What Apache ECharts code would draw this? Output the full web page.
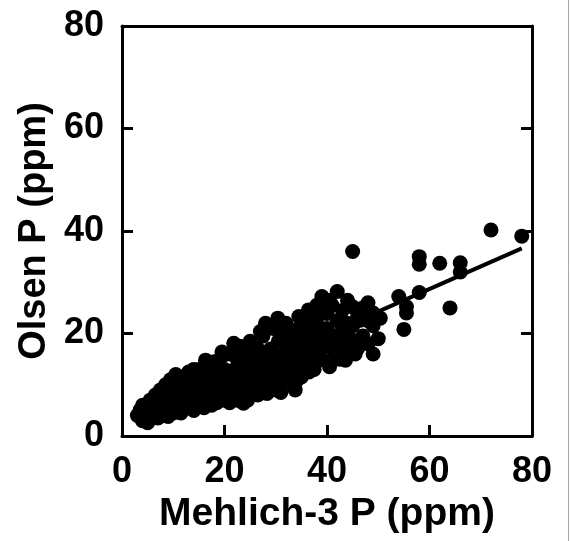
<!DOCTYPE html>
<html><head><meta charset="utf-8">
<script src="https://cdn.jsdelivr.net/npm/echarts@6/dist/echarts.min.js"></script>
<style>html,body{margin:0;padding:0;background:#fff}#c{width:570px;height:541px}</style>
</head><body><div id="c"></div>
<script>
var xTicks = [0, 20, 40, 60, 80];
var yTicks = [0, 20, 40, 60, 80];
var xName = 'Mehlich-3 P (ppm)';
var yName = 'Olsen P (ppm)';
// [Mehlich-3 P, Olsen P]
var points = [
[45,36],[72,40.2],[78,39],[58,35],[58,33.5],[62,33.7],[66,33.8],[66,32],[64,25],[58,28],
[54,27.2],[55.5,25.2],[55.5,24],[55,20.8],[48,26],[49,21.5],[49,16],[42,28.2],[39,27.2],[45,25.2],
[46,17.1],[43.6,14.8],[37.5,13],[34,10.7],[37,24.3],[40,23.9],[34.5,23.3],[46.5,22.6],[36.4,24.6],[30.4,23],
[28,22],[27,20.4],[21.8,18.1],[19.5,16.4],[16.3,14.8],[33.8,9],[28.3,8.3],[23.7,6.4],[36.7,13.5],[50.4,23],
[3,4],[3.5,5],[4,3],[4,6],[4.5,4.5],[5,2.6],[5,5.5],[5.5,3.5],[5.5,7],[6,4],
[6,6],[6.5,5],[6.5,8],[7,3.5],[7,6.5],[7.5,5],[7.5,9],[8,4],[8,7],[8.5,6],
[8.5,10],[9,3.8],[9,8],[9.5,5.5],[9.5,11],[10,4.5],[10,7],[10,9.5],[10.5,6],[10.5,12],
[11,5],[11,8],[11.5,10],[11.5,4.5],[12,7],[12,11.5],[12.5,5.5],[12.5,9],[13,6.5],[13,12.5],
[13.5,8],[13.5,10.5],[14,5],[14,7.5],[14,13],[14.5,9.5],[15,6],[15,11],[15,13],[15.5,8],
[16,5.5],[16,10],[16,12.5],[16.5,7],[17,9],[17,13.5],[17.5,6],[17.5,11],[18,8],[18,14.5],
[18.5,10],[18.5,6.5],[19,12],[19,8.5],[19.5,15.5],[20,7],[20,10.5],[20,13],[20.5,9],[21,6.5],
[21,11.5],[21,16],[21.5,8],[22,13],[22,10],[22.5,7],[22.5,15],[23,11],[23,17.5],[23.5,8.5],
[24,13.5],[24,10],[24.5,7],[24.5,16],[25,12],[25,18.5],[25.5,9],[26,14.5],[26,11],[26.5,8],
[26.5,17],[27,13],[27.5,10],[27.5,19.5],[28,15.5],[28,12],[28.5,9.5],[29,17],[29,13.5],[29.5,11],
[29.5,21],[30,15],[30,9],[30.5,18.5],[31,12.5],[31,20.5],[31.5,16],[32,10.5],[32,14],[32,22],
[32.5,18],[33,12],[33,20],[33.5,15.5],[34,17],[34,13],[34.5,21],[35,11.5],[35,19],[35.5,15],
[36,17.5],[36,22.5],[36.5,12.5],[37,20],[37,16],[37.5,18.5],[38,14.5],[38,22],[38.5,17],[39,19.5],
[39,15],[39.5,24],[40,17.5],[40,21],[40.5,13.5],[41,19],[41,25.5],[41.5,16],[42,22.5],[42,18.5],
[42.5,15],[43,20.5],[43,24.5],[43.5,17.5],[44,22],[44,26.5],[44.5,19],[45,21.5],[45.5,16],[46,23.5],
[47,19.5],[47,25],[48,18],[48,22.5],[49,24],[50,19],[40.5,26.5],[38,25.5],[35,16.5],[31,8.5]
];
var fitX = [3, 78];
var fitY = [3.6, 36.6];

var FONT = "'Liberation Sans', Arial, sans-serif";
var chart = echarts.init(document.getElementById('c'), null, {renderer: 'canvas'});
function line() { return {show: true, onZero: false, lineStyle: {color: '#000', width: 3}}; }
function tick(show) { return {show: show, inside: true, length: 11, lineStyle: {width: 3, color: '#000'}}; }
chart.setOption({
  animation: false,
  backgroundColor: '#fff',
  grid: {left: 122, right: 38, top: 26, bottom: 105},
  xAxis: [{
    type: 'value', position: 'bottom', min: xTicks[0], max: xTicks[xTicks.length - 1], interval: xTicks[1] - xTicks[0],
    name: xName, nameLocation: 'middle', nameGap: 58,
    nameTextStyle: {fontFamily: FONT, fontWeight: 'bold', fontSize: 39, color: '#000'},
    axisLine: line(), axisTick: tick(true),
    axisLabel: {fontFamily: FONT, fontWeight: 'bold', fontSize: 36, color: '#000', margin: 18,
      showMinLabel: true, showMaxLabel: true},
    splitLine: {show: false}
  }, {
    type: 'value', position: 'top', min: 0, max: 80, interval: 20,
    axisLine: line(), axisTick: {show: false}, axisLabel: {show: false}, splitLine: {show: false}
  }],
  yAxis: [{
    type: 'value', position: 'left', min: yTicks[0], max: yTicks[yTicks.length - 1], interval: yTicks[1] - yTicks[0],
    name: yName, nameLocation: 'middle', nameGap: 64,
    nameTextStyle: {fontFamily: FONT, fontWeight: 'bold', fontSize: 38, color: '#000'},
    axisLine: line(), axisTick: tick(true),
    axisLabel: {fontFamily: FONT, fontWeight: 'bold', fontSize: 36, color: '#000', margin: 18,
      showMinLabel: true, showMaxLabel: true},
    splitLine: {show: false}
  }, {
    type: 'value', position: 'right', min: 0, max: 80, interval: 20,
    axisLine: line(), axisTick: tick(true),
    axisLabel: {show: false}, splitLine: {show: false}
  }],
  graphic: [{
    type: 'line', shape: {x1: 568.5, y1: 0, x2: 568.5, y2: 541},
    style: {stroke: '#a8a8a8', lineWidth: 1}, silent: true
  }],
  series: [{
    type: 'scatter', data: points, symbol: 'circle', symbolSize: 15,
    itemStyle: {color: '#000', opacity: 1}, z: 2
  }, {
    type: 'line', data: fitX.map(function (x, i) { return [x, fitY[i]]; }),
    symbol: 'none', lineStyle: {color: '#000', width: 4}, z: 3
  }]
});
</script></body></html>
